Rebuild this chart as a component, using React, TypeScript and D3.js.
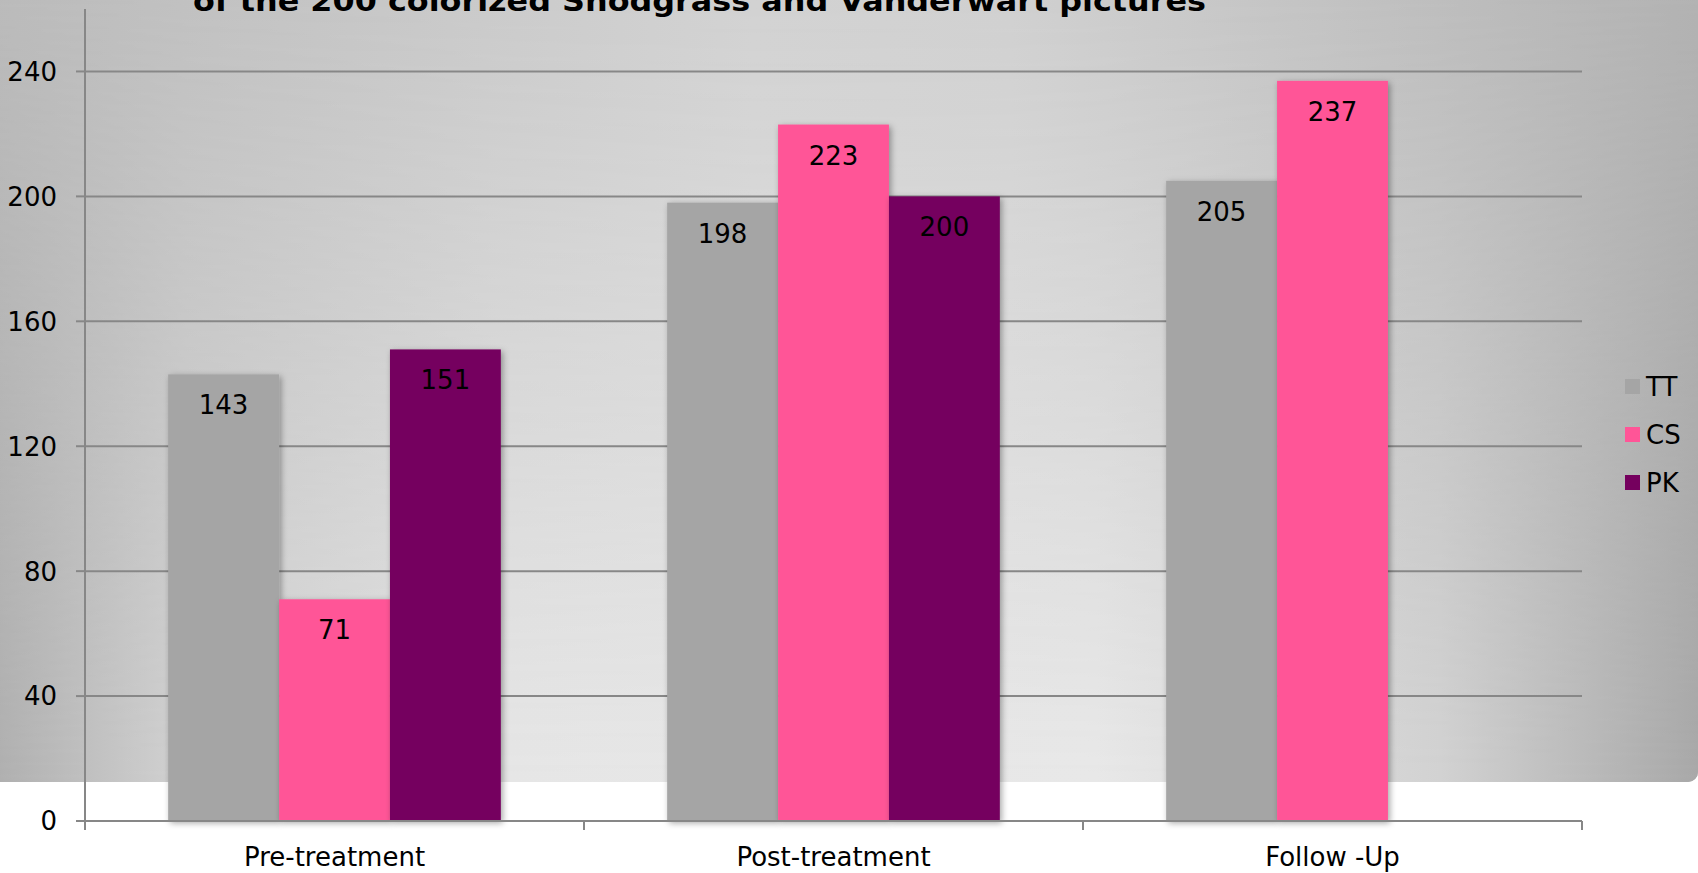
import React from "react";
import * as d3 from "d3";

// Chart data
const categories = ["Pre-treatment", "Post-treatment", "Follow -Up"];
const seriesNames = ["TT", "CS", "PK"];
const seriesColors = ["#a5a5a5", "#ff5597", "#75005e"];
const valuesTT = [143, 198, 205];
const valuesCS = [71, 223, 237];
const valuesPK: (number | null)[] = [151, 200, null];
const yTicks = [0, 40, 80, 120, 160, 200, 240];
const titleLine = "of the 200 colorized Snodgrass and Vanderwart pictures";

const W = 1698;
const H = 873;
const FONT = "'DejaVu Sans', Verdana, sans-serif";

export default function App() {
  const series = [valuesTT, valuesCS, valuesPK];

  const plotLeft = 85;
  const plotRight = 1582;
  const plotBottom = 821;
  const plotTop = 9;

  const x = d3.scaleBand<string>().domain(categories).range([plotLeft, plotRight]).paddingInner(0).paddingOuter(0);
  const xInner = d3
    .scaleBand<string>()
    .domain(seriesNames)
    .range([0, x.bandwidth()])
    .paddingInner(0)
    .paddingOuter(0.75);
  const y = d3.scaleLinear().domain([0, 260]).range([plotBottom, plotTop]);

  const boundaries = [...categories.map((c) => x(c) as number), plotRight];
  const axisColor = "#878787";

  return (
    <div style={{ position: "absolute", left: 0, top: 0, width: W, height: H, overflow: "hidden", background: "#fff" }}>
      <svg width={W} height={H} style={{ display: "block" }} fontFamily={FONT}>
        <defs>
          <linearGradient id="bgTop" x1="0" y1="0" x2="1" y2="0">
            <stop offset="0" stopColor="#bbbbbb" />
            <stop offset="0.45" stopColor="#d2d2d2" />
            <stop offset="0.6" stopColor="#d0d0d0" />
            <stop offset="1" stopColor="#b3b3b3" />
          </linearGradient>
          <linearGradient id="bgBottom" x1="0" y1="0" x2="1" y2="0">
            <stop offset="0" stopColor="#acacac" />
            <stop offset="0.12" stopColor="#d2d2d2" />
            <stop offset="0.3" stopColor="#e6e6e6" />
            <stop offset="0.65" stopColor="#e8e8e8" />
            <stop offset="0.85" stopColor="#d2d2d2" />
            <stop offset="1" stopColor="#a8a8a8" />
          </linearGradient>
          <linearGradient id="fadeDown" x1="0" y1="0" x2="0" y2="1">
            <stop offset="0" stopColor="#fff" stopOpacity="0" />
            <stop offset="1" stopColor="#fff" stopOpacity="1" />
          </linearGradient>
          <mask id="bottomMask" maskUnits="userSpaceOnUse" x="-20" y="-20" width={W + 40} height={802}>
            <rect x={-20} y={-20} width={W + 40} height={802} fill="url(#fadeDown)" />
          </mask>
          <clipPath id="bgClip">
            <rect x={-20} y={-20} width={W + 20} height={802} rx={10} ry={10} />
          </clipPath>
          <filter id="barShadow" x="-20%" y="-5%" width="140%" height="110%">
            <feDropShadow dx="2" dy="2" stdDeviation="3" floodColor="#000" floodOpacity="0.35" />
          </filter>
        </defs>

        {/* chart area background */}
        <g clipPath="url(#bgClip)">
          <rect x={-20} y={-20} width={W + 20} height={802} fill="url(#bgTop)" />
          <rect x={-20} y={-20} width={W + 20} height={802} fill="url(#bgBottom)" mask="url(#bottomMask)" />
        </g>

        {/* title (second line) */}
        <text
          x={193}
          y={10.5}
          fontSize={28}
          fontWeight="bold"
          fill="#000"
          textLength={1013}
          lengthAdjust="spacingAndGlyphs"
        >
          {titleLine}
        </text>

        {/* gridlines */}
        {yTicks
          .filter((t) => t > 0)
          .map((t) => (
            <line key={t} x1={plotLeft} x2={plotRight} y1={y(t)} y2={y(t)} stroke={axisColor} strokeWidth={2} />
          ))}

        {/* bars */}
        {categories.map((c, ci) => (
          <g key={c}>
            {series.map((vals, si) => {
              const v = vals[ci];
              if (v == null) return null;
              const bx = (x(c) as number) + (xInner(seriesNames[si]) as number);
              return (
                <rect
                  key={si}
                  x={bx}
                  y={y(v)}
                  width={xInner.bandwidth()}
                  height={y(0) - y(v)}
                  fill={seriesColors[si]}
                  filter="url(#barShadow)"
                />
              );
            })}
          </g>
        ))}

        {/* data labels */}
        {categories.map((c, ci) =>
          series.map((vals, si) => {
            const v = vals[ci];
            if (v == null) return null;
            const cx = (x(c) as number) + (xInner(seriesNames[si]) as number) + xInner.bandwidth() / 2;
            return (
              <text key={`${ci}-${si}`} x={cx} y={y(v) + 40} fontSize={26} textAnchor="middle" fill="#000">
                {v}
              </text>
            );
          })
        )}

        {/* value axis */}
        <line x1={plotLeft} x2={plotLeft} y1={plotTop} y2={plotBottom} stroke={axisColor} strokeWidth={2} />
        {yTicks.map((t) => (
          <g key={t}>
            <line x1={plotLeft - 9} x2={plotLeft} y1={y(t)} y2={y(t)} stroke={axisColor} strokeWidth={2} />
            <text x={57} y={y(t)} dy="0.36em" fontSize={26} textAnchor="end" fill="#000">
              {t}
            </text>
          </g>
        ))}

        {/* category axis */}
        <line x1={plotLeft} x2={plotRight} y1={plotBottom} y2={plotBottom} stroke={axisColor} strokeWidth={2} />
        {boundaries.map((bx, i) => (
          <line key={i} x1={bx} x2={bx} y1={plotBottom} y2={plotBottom + 9} stroke={axisColor} strokeWidth={2} />
        ))}
        {categories.map((c) => (
          <text
            key={c}
            x={(x(c) as number) + x.bandwidth() / 2}
            y={866}
            fontSize={26}
            textAnchor="middle"
            fill="#000"
          >
            {c}
          </text>
        ))}

        {/* legend */}
        {seriesNames.map((s, i) => (
          <g key={s} transform={`translate(1625, ${379 + i * 48})`}>
            <rect x={0} y={0} width={15} height={15} fill={seriesColors[i]} />
            <text x={21} y={7.5} dy="0.36em" fontSize={26} fill="#000">
              {s}
            </text>
          </g>
        ))}
      </svg>
    </div>
  );
}
